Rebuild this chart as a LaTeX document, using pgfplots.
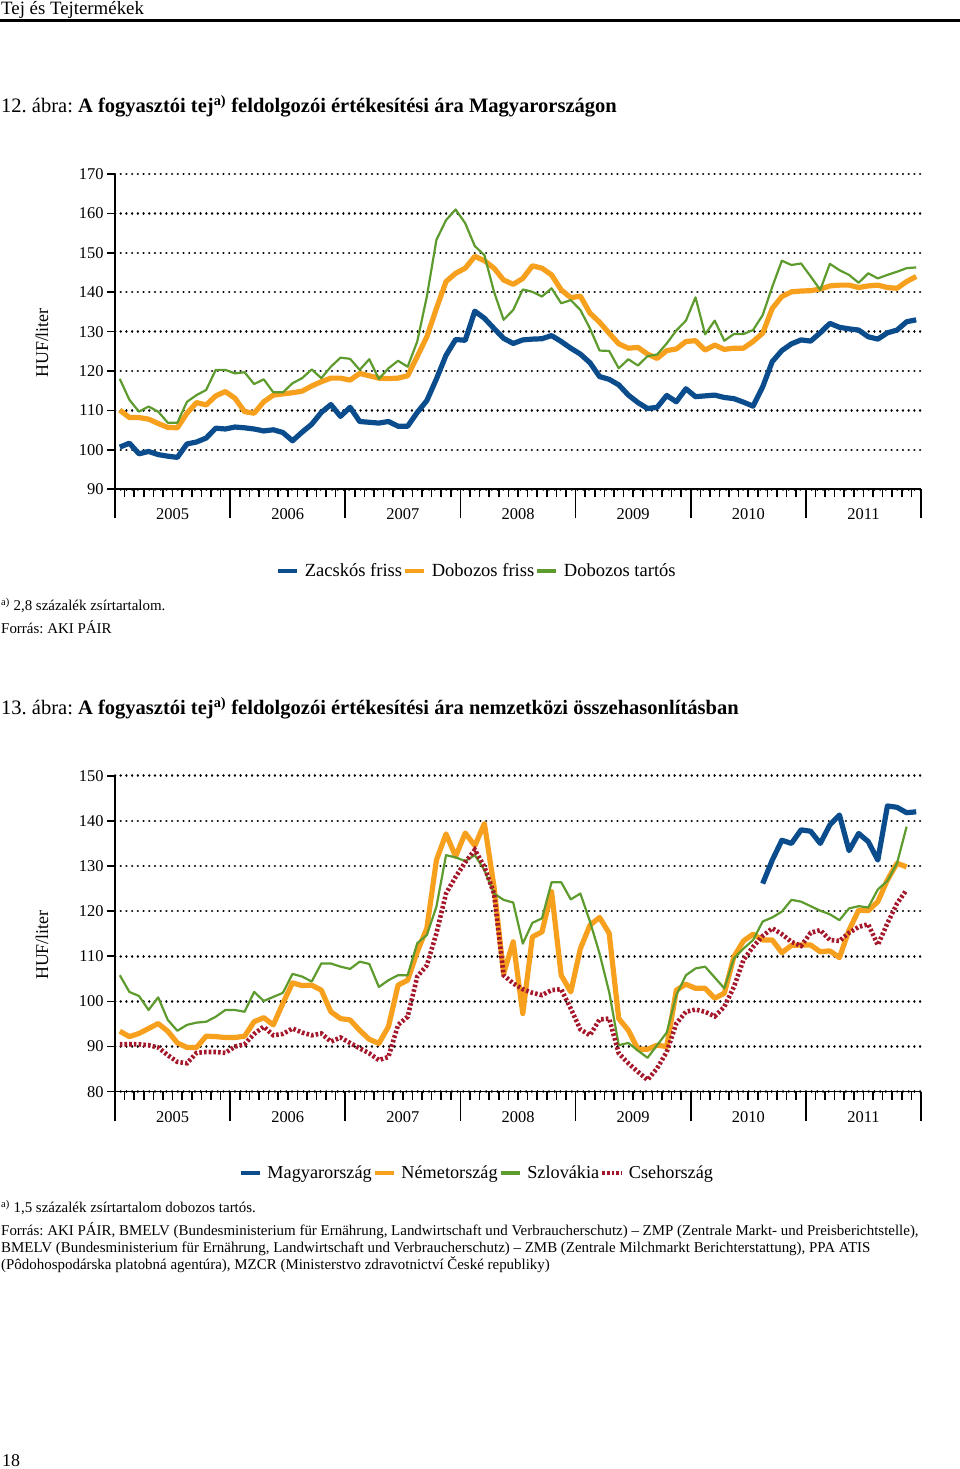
\documentclass[border=0pt]{standalone}
\usepackage{fontspec}
\setmainfont{Liberation Serif}
\usepackage{pgfplots}
\pgfplotsset{compat=1.18}
\frenchspacing
\definecolor{cblue}{HTML}{0B4D8C}
\definecolor{corange}{HTML}{F7A01E}
\definecolor{cgreen}{HTML}{5E9B2E}
\definecolor{cred}{HTML}{A5182B}
\pgfplotsset{
  mychart/.style={
    scale only axis, width=806bp,
    xmin=-0.5, xmax=83.5,
    axis x line*=bottom, axis y line*=left,
    axis line style={line width=1.6bp, black, -},
    tick align=outside,
    major tick length=8bp, minor tick length=8bp,
    tick style={black, line width=1.6bp},
    xtick={-0.5,11.5,...,71.5}, xticklabels={2005,2006,2007,2008,2009,2010,2011},
    xticklabel style={xshift=57.6bp, yshift=-8bp},
    minor xtick={0.5,1.5,...,82.5},
    extra x ticks={-0.5,11.5,...,83.5}, extra x tick labels={},
    extra x tick style={major tick length=29bp},
    ymajorgrids, major grid style={black, line width=2.5bp, line cap=round, dash pattern=on 0.01bp off 5.7bp},
    tick label style={font=\fontsize{16.5}{17}\selectfont},
    /pgf/number format/assume math mode=true,
    ylabel={HUF/liter},
    every axis y label/.style={at={(axis description cs:-0.0906,0.464)}, rotate=90, anchor=center, font=\fontsize{18}{18}\selectfont},
    legend style={draw=none, fill=none, font=\fontsize{18.6}{19}\selectfont, anchor=center, inner xsep=0pt, inner ysep=0pt,
      nodes={inner xsep=1.5bp, inner ysep=0pt},
      /tikz/every odd column/.append style={column sep=4.5bp}},
    legend image code/.code={\draw[#1, line width=3.2bp, line cap=butt] (0bp,0bp) -- (19bp,0bp);},
    thickline/.style={line width=5.2bp, line join=round},
    thinline/.style={line width=2.2bp, line join=round},
  }
}
\begin{document}
\begin{tikzpicture}
\path[use as bounding box] (0bp,0bp) rectangle (960bp,1469bp);
% header
\node[anchor=base west, inner sep=0pt, font=\fontsize{18.9}{19}\selectfont] at (1bp,1454bp) {Tej és Tejtermékek};
\draw[line width=2.6bp] (0bp,1448.5bp) -- (960bp,1448.5bp);
\node[anchor=base west, inner sep=0pt, font=\fontsize{20.6}{21}\selectfont] at (1bp,1356bp) {12. ábra: \textbf{A fogyasztói tej\textsuperscript{a)} feldolgozói értékesítési ára Magyarországon}};
\node[anchor=base west, inner sep=0pt, font=\fontsize{15}{15}\selectfont] at (1bp,858bp) {\textsuperscript{a)} 2,8 százalék zsírtartalom.};
\node[anchor=base west, inner sep=0pt, font=\fontsize{15}{15}\selectfont] at (1bp,835bp) {Forrás: AKI PÁIR};
\node[anchor=base west, inner sep=0pt, font=\fontsize{20.6}{21}\selectfont] at (1bp,754bp) {13. ábra: \textbf{A fogyasztói tej\textsuperscript{a)} feldolgozói értékesítési ára nemzetközi összehasonlításban}};
\node[anchor=base west, inner sep=0pt, font=\fontsize{15}{15}\selectfont] at (1bp,256bp) {\textsuperscript{a)} 1,5 százalék zsírtartalom dobozos tartós.};
\node[anchor=base west, inner sep=0pt, font=\fontsize{15}{15}\selectfont] at (1bp,233bp) {Forrás: AKI PÁIR, BMELV (Bundesministerium für Ernährung, Landwirtschaft und Verbraucherschutz) – ZMP (Zentrale Markt- und Preisberichtstelle),};
\node[anchor=base west, inner sep=0pt, font=\fontsize{15}{15}\selectfont] at (1bp,216bp) {BMELV (Bundesministerium für Ernährung, Landwirtschaft und Verbraucherschutz) – ZMB (Zentrale Milchmarkt Berichterstattung), PPA ATIS};
\node[anchor=base west, inner sep=0pt, font=\fontsize{15}{15}\selectfont] at (1bp,199bp) {(Pôdohospodárska platobná agentúra), MZCR (Ministerstvo zdravotnictví České republiky)};
\node[anchor=base west, inner sep=0pt, font=\fontsize{18}{18}\selectfont] at (2bp,3bp) {18};

% chart 1
\begin{axis}[mychart, at={(115bp,979.7bp)}, anchor=south west, height=315.3bp,
  ymin=90, ymax=170, ytick={90,100,...,170},
  legend columns=3, legend style={at={(0.449,-0.259)}}]
\addplot[cblue, thickline] coordinates {
(0,100.7)(1,101.7)(2,99.0)(3,99.6)(4,98.8)(5,98.4)(6,98.1)(7,101.5)(8,102.0)(9,103.0)
(10,105.5)(11,105.3)(12,105.8)(13,105.6)(14,105.3)(15,104.8)(16,105.1)(17,104.4)(18,102.3)(19,104.5)
(20,106.5)(21,109.5)(22,111.5)(23,108.5)(24,110.8)(25,107.2)(26,107.0)(27,106.8)(28,107.2)(29,106.0)
(30,106.0)(31,109.5)(32,112.5)(33,118.0)(34,124.0)(35,128.0)(36,127.8)(37,135.2)(38,133.4)(39,130.8)
(40,128.3)(41,127.0)(42,127.9)(43,128.1)(44,128.2)(45,129.0)(46,127.5)(47,125.8)(48,124.3)(49,122.1)
(50,118.6)(51,117.9)(52,116.5)(53,113.9)(54,112.0)(55,110.5)(56,110.8)(57,113.8)(58,112.2)(59,115.5)
(60,113.5)(61,113.7)(62,113.9)(63,113.3)(64,113.0)(65,112.1)(66,111.1)(67,116.0)(68,122.4)(69,125.2)
(70,126.9)(71,127.9)(72,127.6)(73,129.7)(74,132.1)(75,131.1)(76,130.7)(77,130.4)(78,128.7)(79,128.1)
(80,129.7)(81,130.4)(82,132.5)(83,133.0)};
\addlegendentry{Zacskós friss}
\addplot[corange, thickline] coordinates {
(0,110.1)(1,108.2)(2,108.2)(3,107.8)(4,106.7)(5,105.7)(6,105.6)(7,109.3)(8,112.0)(9,111.4)
(10,113.7)(11,114.8)(12,113.1)(13,109.7)(14,109.3)(15,112.2)(16,113.9)(17,114.2)(18,114.5)(19,114.9)
(20,116.2)(21,117.3)(22,118.2)(23,118.2)(24,117.7)(25,119.4)(26,118.8)(27,118.2)(28,118.1)(29,118.2)
(30,118.8)(31,123.7)(32,128.7)(33,135.9)(34,142.7)(35,144.8)(36,146.1)(37,149.1)(38,148.0)(39,146.1)
(40,143.1)(41,142.0)(42,143.5)(43,146.7)(44,146.1)(45,144.4)(46,140.6)(47,138.6)(48,139.0)(49,134.7)
(50,132.4)(51,129.6)(52,126.9)(53,125.8)(54,126.0)(55,124.3)(56,123.2)(57,125.2)(58,125.6)(59,127.5)
(60,127.7)(61,125.3)(62,126.6)(63,125.5)(64,125.8)(65,125.8)(66,127.5)(67,129.6)(68,135.9)(69,138.9)
(70,140.1)(71,140.3)(72,140.4)(73,140.8)(74,141.6)(75,141.8)(76,141.8)(77,141.2)(78,141.6)(79,141.8)
(80,141.2)(81,141.0)(82,142.7)(83,144.0)};
\addlegendentry{Dobozos friss}
\addplot[cgreen, thinline] coordinates {
(0,118.0)(1,112.7)(2,109.7)(3,111.0)(4,109.7)(5,106.9)(6,106.9)(7,112.2)(8,113.9)(9,115.2)
(10,120.3)(11,120.3)(12,119.4)(13,119.7)(14,116.7)(15,117.9)(16,114.6)(17,114.6)(18,116.9)(19,118.2)
(20,120.4)(21,118.2)(22,121.1)(23,123.4)(24,123.1)(25,120.3)(26,123.0)(27,118.0)(28,120.7)(29,122.6)
(30,121.1)(31,127.5)(32,138.9)(33,153.3)(34,158.3)(35,161.0)(36,157.5)(37,151.7)(38,149.4)(39,140.1)
(40,133.0)(41,135.5)(42,140.7)(43,140.1)(44,138.9)(45,141.0)(46,137.2)(47,138.0)(48,135.5)(49,130.8)
(50,125.2)(51,125.1)(52,120.7)(53,123.0)(54,121.4)(55,123.8)(56,124.2)(57,127.0)(58,130.3)(59,132.8)
(60,138.7)(61,129.3)(62,132.8)(63,127.7)(64,129.4)(65,129.4)(66,130.4)(67,134.2)(68,141.4)(69,148.0)
(70,146.9)(71,147.3)(72,144.0)(73,140.6)(74,147.2)(75,145.6)(76,144.4)(77,142.4)(78,144.8)(79,143.5)
(80,144.4)(81,145.2)(82,146.1)(83,146.3)};
\addlegendentry{Dobozos tartós}
\end{axis}

% chart 2
\begin{axis}[mychart, at={(115bp,377.3bp)}, anchor=south west, height=316bp,
  ymin=80, ymax=150, ytick={80,90,...,150},
  legend columns=4, legend style={at={(0.449,-0.257)}, font=\fontsize{18.3}{19}\selectfont}]
\addplot[cblue, thickline] coordinates {
(67,126.1)(68,131.3)(69,135.7)(70,135.0)(71,138.0)(72,137.7)(73,135.0)(74,139.1)(75,141.3)(76,133.4)
(77,137.2)(78,135.4)(79,131.3)(80,143.3)(81,143.0)(82,141.8)(83,142.0)};
\addlegendentry{Magyarország}
\addplot[corange, thickline] coordinates {
(0,93.4)(1,92.2)(2,92.9)(3,94.0)(4,95.1)(5,93.4)(6,90.8)(7,89.8)(8,89.8)(9,92.3)
(10,92.2)(11,92.0)(12,92.0)(13,92.3)(14,95.5)(15,96.4)(16,94.8)(17,99.6)(18,104.1)(19,103.5)
(20,103.6)(21,102.5)(22,97.7)(23,96.2)(24,95.9)(25,93.6)(26,91.6)(27,90.7)(28,94.4)(29,103.6)
(30,104.7)(31,111.0)(32,116.2)(33,131.3)(34,137.1)(35,132.1)(36,137.3)(37,134.5)(38,139.4)(39,125.4)
(40,106.2)(41,113.2)(42,97.3)(43,114.3)(44,115.4)(45,124.3)(46,105.8)(47,102.1)(48,111.7)(49,116.9)
(50,118.6)(51,115.1)(52,96.2)(53,93.6)(54,89.4)(55,89.4)(56,90.3)(57,90.0)(58,102.5)(59,103.8)
(60,102.9)(61,102.9)(62,100.7)(63,101.8)(64,109.9)(65,113.4)(66,114.9)(67,113.6)(68,113.6)(69,110.8)
(70,112.4)(71,112.5)(72,112.5)(73,111.0)(74,111.2)(75,109.7)(76,115.8)(77,120.2)(78,120.1)(79,122.1)
(80,126.9)(81,130.6)(82,129.8)};
\addlegendentry{Németország}
\addplot[cgreen, thinline] coordinates {
(0,105.8)(1,102.1)(2,101.2)(3,98.1)(4,100.9)(5,95.9)(6,93.5)(7,94.8)(8,95.3)(9,95.5)
(10,96.6)(11,98.1)(12,98.1)(13,97.7)(14,102.1)(15,100.1)(16,101.0)(17,101.9)(18,106.1)(19,105.5)
(20,104.4)(21,108.4)(22,108.4)(23,107.7)(24,107.2)(25,108.8)(26,108.3)(27,103.2)(28,104.7)(29,105.8)
(30,105.8)(31,112.9)(32,114.7)(33,121.0)(34,132.4)(35,131.9)(36,131.1)(37,132.4)(38,129.1)(39,123.9)
(40,122.5)(41,121.9)(42,112.8)(43,117.4)(44,118.4)(45,126.4)(46,126.4)(47,122.6)(48,123.9)(49,117.7)
(50,110.6)(51,102.1)(52,90.3)(53,90.8)(54,89.1)(55,87.5)(56,90.3)(57,93.1)(58,101.4)(59,105.8)
(60,107.3)(61,107.7)(62,105.3)(63,102.9)(64,109.5)(65,111.7)(66,113.6)(67,117.7)(68,118.6)(69,119.9)
(70,122.5)(71,122.1)(72,121.1)(73,120.1)(74,119.3)(75,118.0)(76,120.6)(77,121.1)(78,120.8)(79,124.8)
(80,126.7)(81,130.6)(82,138.7)};
\addlegendentry{Szlovákia}
\addplot[cred, line width=4.6bp, dash pattern=on 2.6bp off 2.1bp] coordinates {
(0,90.5)(1,90.5)(2,90.5)(3,90.3)(4,89.8)(5,88.1)(6,86.6)(7,86.3)(8,88.6)(9,88.8)
(10,88.8)(11,88.6)(12,90.0)(13,90.5)(14,92.8)(15,94.4)(16,92.5)(17,92.8)(18,94.0)(19,93.1)
(20,92.5)(21,92.9)(22,91.1)(23,92.0)(24,90.8)(25,89.6)(26,88.5)(27,87.0)(28,87.7)(29,94.8)
(30,96.6)(31,105.5)(32,108.0)(33,115.1)(34,123.9)(35,127.6)(36,130.8)(37,133.6)(38,129.8)(39,123.9)
(40,105.8)(41,104.0)(42,102.7)(43,101.9)(44,101.4)(45,102.5)(46,102.7)(47,98.4)(48,93.8)(49,92.5)
(50,96.0)(51,96.2)(52,88.5)(53,86.3)(54,84.4)(55,82.6)(56,85.2)(57,88.8)(58,95.1)(59,97.7)
(60,98.2)(61,97.7)(62,96.7)(63,98.8)(64,103.2)(65,109.2)(66,112.1)(67,114.5)(68,116.2)(69,114.9)
(70,113.2)(71,112.3)(72,115.2)(73,115.8)(74,113.6)(75,113.4)(76,115.2)(77,116.5)(78,117.1)(79,112.5)
(80,117.3)(81,121.7)(82,124.7)};
\addlegendentry{Csehország}
\end{axis}
\end{tikzpicture}
\end{document}
